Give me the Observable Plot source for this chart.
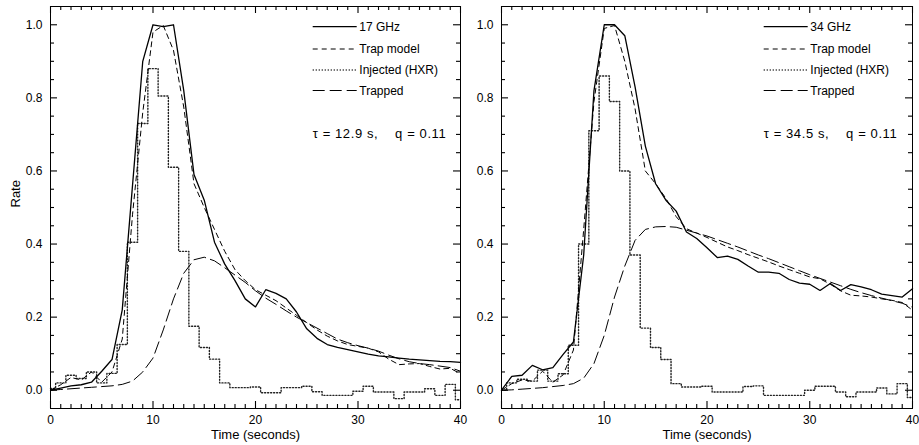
<!DOCTYPE html>
<html><head><meta charset="utf-8">
<script src="https://cdn.jsdelivr.net/npm/d3@7"></script>
<script src="https://cdn.jsdelivr.net/npm/@observablehq/plot@0.6"></script>
<style>
body{margin:0;background:#fff;}
#wrap{position:relative;width:919px;height:445px;overflow:hidden;font-family:"Liberation Sans",Arial,Helvetica,sans-serif;}
#wrap svg{position:absolute;top:0;}
</style></head><body><div id="wrap"></div>
<script>
// ---- data (seconds) ----
const time = [0,1,2,3,4,5,6,7,8,9,10,11,12,13,14,15,16,17,18,19,20,21,22,23,24,25,26,27,28,29,30,31,32,33,34,35,36,37,38,39,40];

// left panel: 17 GHz
const ghz17 = [0,0.006,0.012,0.015,0.022,0.052,0.084,0.22,0.56,0.90,1.0,0.995,1.0,0.82,0.59,0.52,0.405,0.345,0.30,0.25,0.228,0.275,0.265,0.25,0.214,0.168,0.142,0.125,0.117,0.111,0.105,0.099,0.094,0.091,0.088,0.085,0.083,0.081,0.079,0.078,0.076];
const trapModel17 = [0,0.015,0.035,0.028,0.05,0.022,0.05,0.14,0.48,0.76,0.98,0.998,0.93,0.775,0.565,0.50,0.44,0.38,0.33,0.30,0.275,0.26,0.245,0.225,0.205,0.185,0.165,0.148,0.135,0.125,0.12,0.115,0.105,0.085,0.07,0.072,0.073,0.065,0.058,0.06,0.045];
const injected17 = [0.005,0.02,0.041,0.032,0.05,0.02,0.046,0.125,0.405,0.73,0.88,0.805,0.61,0.38,0.175,0.117,0.085,0.02,0.007,0.007,0.009,-0.007,-0.007,0.007,0.007,0.011,-0.004,-0.014,-0.014,-0.014,-0.003,0.011,-0.005,-0.005,-0.023,-0.005,-0.005,0.004,-0.014,0.016,-0.026];
const trapped17 = [0,0.002,0.004,0.006,0.008,0.01,0.012,0.016,0.025,0.05,0.088,0.165,0.25,0.32,0.357,0.364,0.354,0.335,0.315,0.295,0.272,0.252,0.235,0.217,0.2,0.185,0.17,0.155,0.14,0.13,0.122,0.115,0.107,0.096,0.086,0.078,0.073,0.07,0.066,0.062,0.052];

// right panel: 34 GHz
const ghz34 = [0,0.038,0.041,0.068,0.056,0.062,0.098,0.132,0.37,0.82,1.0,1.0,0.97,0.83,0.668,0.565,0.52,0.49,0.433,0.415,0.39,0.363,0.367,0.358,0.34,0.323,0.323,0.32,0.303,0.293,0.29,0.273,0.292,0.273,0.289,0.283,0.275,0.263,0.259,0.255,0.278];
const trapModel34 = [0,0.018,0.028,0.025,0.052,0.022,0.042,0.11,0.44,0.79,0.99,0.998,0.9,0.77,0.6,0.565,0.525,0.475,0.442,0.43,0.418,0.405,0.392,0.382,0.371,0.361,0.351,0.34,0.33,0.32,0.31,0.305,0.29,0.272,0.26,0.258,0.255,0.25,0.246,0.24,0.219];
const injected34 = [0,0.02,0.03,0.025,0.055,0.025,0.045,0.123,0.40,0.71,0.86,0.79,0.60,0.37,0.17,0.117,0.084,0.018,0.009,0.009,0.011,-0.005,-0.005,-0.005,0.01,0.012,-0.014,-0.014,-0.014,-0.014,0.0,0.011,0.011,-0.005,-0.018,-0.005,-0.005,0.006,-0.01,0.018,-0.02];
const trapped34 = [0,0.001,0.003,0.005,0.007,0.01,0.013,0.018,0.033,0.073,0.15,0.255,0.34,0.41,0.44,0.447,0.448,0.446,0.438,0.43,0.422,0.412,0.402,0.392,0.381,0.37,0.36,0.349,0.338,0.327,0.316,0.306,0.296,0.286,0.276,0.267,0.259,0.252,0.245,0.238,0.227];

// ---- text & ticks ----
const seriesNames17 = ["17 GHz","Trap model","Injected (HXR)","Trapped"];
const seriesNames34 = ["34 GHz","Trap model","Injected (HXR)","Trapped"];
const annot17 = "\u03c4 = 12.9 s,\u00a0\u00a0\u00a0 q = 0.11";
const annot34 = "\u03c4 = 34.5 s,\u00a0\u00a0\u00a0 q = 0.11";
const xTitle = ["Time (seconds)"];
const yTitle = ["Rate"];
const xMajor = [0,10,20,30,40];
const xMinor = [1,2,3,4,5,6,7,8,9,11,12,13,14,15,16,17,18,19,21,22,23,24,25,26,27,28,29,31,32,33,34,35,36,37,38,39];
const yMajor = [0,0.2,0.4,0.6,0.8,1.0];
const yMinor = [0.05,0.1,0.15,0.25,0.3,0.35,0.45,0.5,0.55,0.65,0.7,0.75,0.85,0.9,0.95];

// ---- styles ----
const styleList = [
  {stroke:"#000", strokeWidth:1.3, strokeDasharray:null},        // observed
  {stroke:"#000", strokeWidth:1.0, strokeDasharray:"5,4"},       // trap model
  {stroke:"#222", strokeWidth:1.4, strokeDasharray:"1.1,1.9"},   // injected
  {stroke:"#000", strokeWidth:1.0, strokeDasharray:"12,5"}       // trapped
];

function dash(st){ const o={stroke:st.stroke,strokeWidth:st.strokeWidth}; if(st.strokeDasharray) o.strokeDasharray=st.strokeDasharray; return o; }

function panel(cfg){
  const rows = time.map((t,i)=>({t, obs:cfg.obs[i], model:cfg.model[i], inj:cfg.inj[i], trapped:cfg.trapped[i]}));
  const s = styleList;
  const H = 445, MT = 6, MB = 37;
  const xDom = [0,40], yDom = [-0.05,1.05];
  // tick lengths in pixels, converted to scale units so ticks point inward
  const pxY = (H - MT - MB) / (yDom[1] - yDom[0]);
  const pxX = (cfg.width - cfg.ml - cfg.mr) / (xDom[1] - xDom[0]);
  const LM = 7, Lm = 4;
  const tick = {stroke:"#000", strokeWidth:1.1};
  const marks = [
    Plot.line(rows,{x:"t",y:"trapped",...dash(s[3])}),
    Plot.line(rows,{x:"t",y:"inj",curve:"step",...dash(s[2])}),
    Plot.line(rows,{x:"t",y:"model",...dash(s[1])}),
    Plot.line(rows,{x:"t",y:"obs",...dash(s[0])}),
    // inward ticks: bottom, top
    Plot.ruleX(xMajor,{x:d=>d, y1:()=>yDom[0], y2:()=>yDom[0]+LM/pxY, ...tick}),
    Plot.ruleX(xMinor,{x:d=>d, y1:()=>yDom[0], y2:()=>yDom[0]+Lm/pxY, ...tick}),
    Plot.ruleX(xMajor,{x:d=>d, y1:()=>yDom[1], y2:()=>yDom[1]-LM/pxY, ...tick}),
    Plot.ruleX(xMinor,{x:d=>d, y1:()=>yDom[1], y2:()=>yDom[1]-Lm/pxY, ...tick}),
    // inward ticks: left, right
    Plot.ruleY(yMajor,{y:d=>d, x1:()=>xDom[0], x2:()=>xDom[0]+LM/pxX, ...tick}),
    Plot.ruleY(yMinor,{y:d=>d, x1:()=>xDom[0], x2:()=>xDom[0]+Lm/pxX, ...tick}),
    Plot.ruleY(yMajor,{y:d=>d, x1:()=>xDom[1], x2:()=>xDom[1]-LM/pxX, ...tick}),
    Plot.ruleY(yMinor,{y:d=>d, x1:()=>xDom[1], x2:()=>xDom[1]-Lm/pxX, ...tick}),
    Plot.frame({stroke:"#000", strokeWidth:1}),
    // tick labels and titles
    Plot.axisX(xMajor,{anchor:"bottom",tickSize:0,tickPadding:7,label:null,tickFormat:d=>String(d)}),
    Plot.axisY(yMajor,{anchor:"left",tickSize:0,tickPadding:8,label:null,tickFormat:d=>d.toFixed(1)}),
    Plot.text(xTitle,{text:d=>d,frameAnchor:"bottom",dy:30,fontSize:13})
  ];
  if (cfg.showY) marks.push(Plot.text(yTitle,{text:d=>d,frameAnchor:"left",dx:-35,rotate:-90,fontSize:13}));
  const svg = Plot.plot({
    width: cfg.width, height: H,
    marginLeft: cfg.ml, marginRight: cfg.mr, marginTop: MT, marginBottom: MB,
    x: {domain:xDom},
    y: {domain:yDom},
    style: {background:"transparent", fontFamily:'"Liberation Sans",Arial,Helvetica,sans-serif', fontSize:"12px", color:"#000", overflow:"visible"},
    marks
  });
  svg.style.left = cfg.left + "px";

  // in-plot legend + annotation
  const g = d3.select(svg).append("g").attr("font-size", 12).attr("fill","#000").attr("text-anchor","start");
  const fx = cfg.ml;
  const ly = [26.7, 49, 70, 90.5];
  cfg.names.forEach((name,i)=>{
    g.append("line").attr("x1", fx+262.7).attr("x2", fx+306.7).attr("y1", ly[i]).attr("y2", ly[i])
      .attr("stroke", s[i].stroke).attr("stroke-width", s[i].strokeWidth)
      .attr("stroke-dasharray", s[i].strokeDasharray);
    g.append("text").attr("x", fx+309.3).attr("y", ly[i]).attr("dy","0.35em").text(name);
  });
  g.append("text").attr("x", fx+262.7).attr("y", 133.3).attr("dy","0.35em")
    .attr("font-size",13).attr("letter-spacing","0.6px").text(cfg.annot);
  return svg;
}

const wrap = document.getElementById("wrap");
wrap.appendChild(panel({obs:ghz17, model:trapModel17, inj:injected17, trapped:trapped17, names:seriesNames17, annot:annot17, showY:true, width:461, ml:50, mr:1, left:0}));
wrap.appendChild(panel({obs:ghz34, model:trapModel34, inj:injected34, trapped:trapped34, names:seriesNames34, annot:annot34, showY:false, width:458, ml:40, mr:7, left:461}));
</script></body></html>
